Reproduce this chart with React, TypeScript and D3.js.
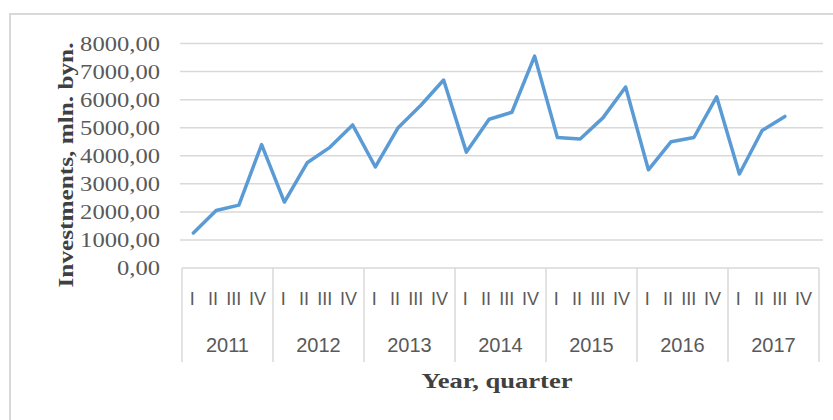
import React from "react";
import * as d3 from "d3";

const years = ["2011", "2012", "2013", "2014", "2015", "2016", "2017"];
const quarters = ["I", "II", "III", "IV"];
const values = [
  1250, 2050, 2240, 4400,
  2350, 3750, 4300, 5100,
  3600, 5000, 5800, 6700,
  4130, 5300, 5550, 7550,
  4650, 4600, 5350, 6450,
  3500, 4500, 4650, 6100,
  3350, 4900, 5400,
];
const yTicks = [0, 1000, 2000, 3000, 4000, 5000, 6000, 7000, 8000];

const W = 833;
const H = 420;

export default function App() {
  const slots = years.flatMap((y) => quarters.map((q) => `${y}-${q}`));
  const x = d3.scaleBand<string>().domain(slots).range([182, 819]).paddingInner(0).paddingOuter(0);
  const y = d3.scaleLinear().domain([0, 8000]).range([268, 43.5]);
  const fmt = (v: number) => d3.format(".2f")(v).replace(".", ",");

  const line = d3
    .line<number>()
    .x((_, i) => (x(slots[i]) as number) + x.bandwidth() / 2)
    .y((d) => y(d));

  const yearW = x.bandwidth() * 4;
  const grid = "#d9d9d9";
  const textGray = "#595959";
  const qOffset = [-1, -3, -5, -4];

  return (
    <svg width={W} height={H} style={{ position: "absolute", left: 0, top: 0, background: "#fff" }}>
      <rect x={10} y={14} width={840} height={430} fill="#fff" stroke={grid} strokeWidth={2} />

      {yTicks.map((t) =>
        t > 0 ? (
          <line key={t} x1={180} x2={823} y1={y(t)} y2={y(t)} stroke={grid} strokeWidth={1.5} />
        ) : null
      )}

      {yTicks.map((t) => (
        <text
          key={"l" + t}
          transform={`translate(160,${y(t) + 7}) scale(1.23,1)`}
          textAnchor="end"
          fontFamily="'Liberation Serif', 'Times New Roman', serif"
          fontSize={20}
          fill={textGray}
        >
          {fmt(t)}
        </text>
      ))}

      {/* category axis */}
      <line x1={182} x2={819} y1={y(0)} y2={y(0)} stroke={grid} strokeWidth={1.5} />
      {d3.range(years.length + 1).map((i) => (
        <line
          key={"d" + i}
          x1={182 + i * yearW}
          x2={182 + i * yearW}
          y1={y(0)}
          y2={362}
          stroke={grid}
          strokeWidth={1.5}
        />
      ))}
      {slots.map((s, i) => (
        <text
          key={"q" + s}
          x={(x(s) as number) + x.bandwidth() / 2 + qOffset[i % 4]}
          y={305}
          textAnchor="middle"
          fontFamily="'Liberation Sans Narrow', 'Liberation Sans', Arial, sans-serif"
          fontSize={18}
          fill={textGray}
        >
          {s.split("-")[1]}
        </text>
      ))}
      {years.map((yr, i) => (
        <text
          key={"y" + yr}
          x={182 + i * yearW + yearW / 2}
          y={352}
          textAnchor="middle"
          fontFamily="'Liberation Sans', Arial, sans-serif"
          fontSize={20}
          fill={textGray}
        >
          {yr}
        </text>
      ))}

      <path
        d={line(values) || ""}
        fill="none"
        stroke="#5B9BD5"
        strokeWidth={3.5}
        strokeLinejoin="round"
        strokeLinecap="round"
      />

      <text
        x={497}
        y={388}
        textAnchor="middle"
        fontFamily="'Liberation Serif', 'Times New Roman', serif"
        fontWeight="bold"
        fontSize={21}
        fill="#404040"
        textLength={151}
        lengthAdjust="spacingAndGlyphs"
      >
        Year, quarter
      </text>
      <text
        transform="translate(73,165) rotate(-90)"
        textAnchor="middle"
        fontFamily="'Liberation Serif', 'Times New Roman', serif"
        fontWeight="bold"
        fontSize={21}
        fill="#404040"
        textLength={245}
        lengthAdjust="spacingAndGlyphs"
      >
        Investments, mln. byn.
      </text>
    </svg>
  );
}
